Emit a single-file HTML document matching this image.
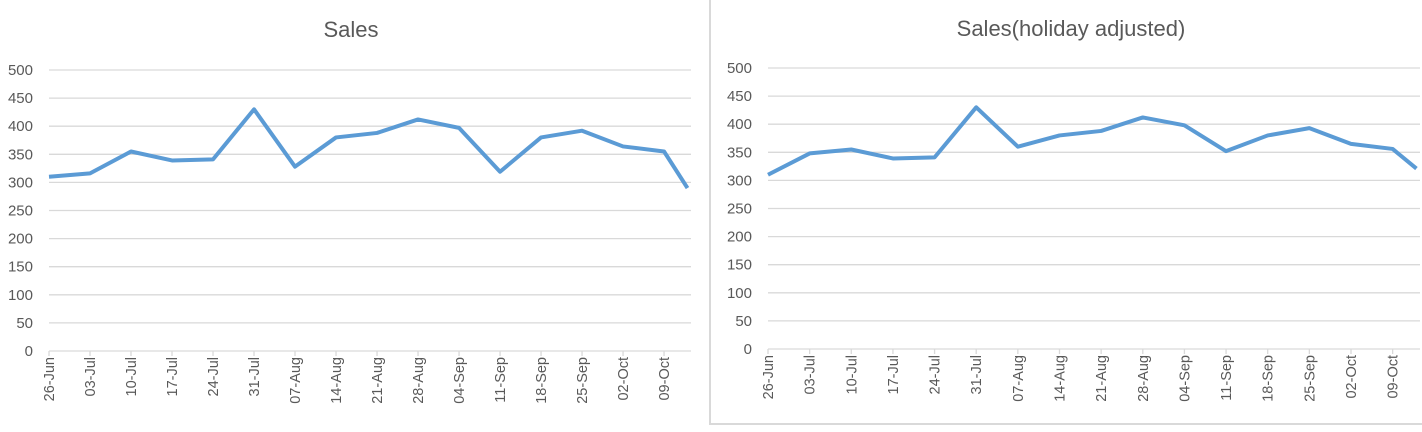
<!DOCTYPE html>
<html><head><meta charset="utf-8"><style>
body{margin:0;background:#fff;width:1422px;height:427px;overflow:hidden;font-family:"Liberation Sans",sans-serif}
svg text{font-family:"Liberation Sans",sans-serif;fill:#595959}
</style></head><body>
<svg width="1422" height="427">
<rect x="710" y="-2" width="720" height="426" fill="none" stroke="#d9d9d9" stroke-width="2"/>
<g id="c1"></g>
<g id="c2"></g>
</svg>
<script>
const categories=["26-Jun","03-Jul","10-Jul","17-Jul","24-Jul","31-Jul","07-Aug","14-Aug","21-Aug","28-Aug","04-Sep","11-Sep","18-Sep","25-Sep","02-Oct","09-Oct"];
const dayOffsets=[0,7,14,21,28,35,42,49,56,63,70,77,84,91,98,105,109];
const salesValues=[310,316,355,339,341,430,328,380,388,412,397,319,380,392,364,355,290];
const adjustedValues=[310,348,355,339,341,430,360,380,388,412,398,352,380,393,365,356,321];
const yTicks=[0,50,100,150,200,250,300,350,400,450,500];
const NS="http://www.w3.org/2000/svg";
function mk(t,a,p){const e=document.createElementNS(NS,t);for(const k in a)e.setAttribute(k,a[k]);p.appendChild(e);return e;}
function draw(g,title,vals,x0,x1,yTop,yBot,titleX,titleY){
  const maxDay=109.6;
  const xs=d=>x0+d*(x1-x0)/maxDay;
  const ys=v=>yBot-(v/500)*(yBot-yTop);
  const t=mk('text',{x:titleX,y:titleY,'font-size':22,'text-anchor':'middle'},g);t.textContent=title;
  
  
  yTicks.forEach(v=>{
    const l=mk('line',{x1:x0,x2:x1,y1:ys(v),y2:ys(v),stroke:'#d9d9d9','stroke-width':1.3},g);
    
    
    const tx=mk('text',{x:x0-16,y:ys(v)+5,'font-size':15,'text-anchor':'end'},g);tx.textContent=v;
    
    
  });
  categories.forEach((c,i)=>{
    const x=xs(dayOffsets[i]);
    const tk=mk('line',{x1:x,x2:x,y1:yBot,y2:yBot+5,stroke:'#d9d9d9','stroke-width':1.3},g);
    
    
    const tx=mk('text',{x:0,y:0,'font-size':14.5,'text-anchor':'end',transform:`translate(${x+5},${yBot+6}) rotate(-90)`},g);tx.textContent=c;
    
    
  });
  const pts=vals.map((v,i)=>xs(dayOffsets[i])+','+ys(v)).join(' ');
  const pl=mk('polyline',{points:pts,fill:'none',stroke:'#5b9bd5','stroke-width':4,'stroke-linejoin':'round'},g);
  
  
}
draw(document.getElementById('c1'),'Sales',salesValues,49,691,70,351,351,37);
draw(document.getElementById('c2'),'Sales(holiday adjusted)',adjustedValues,768,1420,68,349,1071,36);
</script>
</body></html>
